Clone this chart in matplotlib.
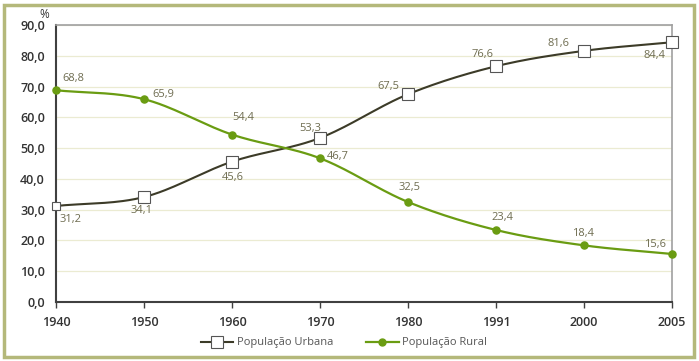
import numpy as np
import matplotlib
matplotlib.use("Agg")
import matplotlib.pyplot as plt
from matplotlib.patches import Rectangle

plt.rcParams['font.family'] = ['Open Sans', 'DejaVu Sans']

years = ["1940", "1950", "1960", "1970", "1980", "1991", "2000", "2005"]
urbana = [31.2, 34.1, 45.6, 53.3, 67.5, 76.6, 81.6, 84.4]
rural = [68.8, 65.9, 54.4, 46.7, 32.5, 23.4, 18.4, 15.6]
yticks = [0, 10, 20, 30, 40, 50, 60, 70, 80, 90]

urb_off = [(15, 14), (-2, 13), (1, 16), (-10, -9), (-20, -8), (-13, -12), (-26, -7), (-18, 13)]
rur_off = [(17, -12), (19, -5), (11, -17), (18, -2), (2, -14), (6, -12), (-1, -12), (-17, -9)]
urb_sizes = [5.5, 9, 9, 9, 9, 9, 9, 9]

def smooth(x, y, n=30):
    x = np.asarray(x, float); y = np.asarray(y, float)
    px = np.concatenate([[2*x[0]-x[1]], x, [2*x[-1]-x[-2]]])
    py = np.concatenate([[2*y[0]-y[1]], y, [2*y[-1]-y[-2]]])
    xs, ys = [], []
    t = np.linspace(0, 1, n)
    for i in range(1, len(px)-2):
        for arr, out in ((px, xs), (py, ys)):
            p0, p1, p2, p3 = arr[i-1], arr[i], arr[i+1], arr[i+2]
            out.extend(0.5*((2*p1) + (-p0+p2)*t + (2*p0-5*p1+4*p2-p3)*t**2 + (-p0+3*p1-3*p2+p3)*t**3))
    return np.array(xs), np.array(ys)

fig = plt.figure(figsize=(6.99, 3.61), dpi=100)
ax = fig.add_axes([56/699, 1-302/361, (672-56)/699, (302-25)/361])

urb_col = "#3c3b28"
rur_col = "#6a9c12"
lab_col = "#6e6c50"

x = np.arange(len(years))
sx, sy = smooth(x, urbana)
ax.plot(sx, sy, color=urb_col, lw=1.5, zorder=3)
sx, sy = smooth(x, rural)
ax.plot(sx, sy, color=rur_col, lw=1.6, zorder=3)
ax.scatter(x, rural, s=26, color=rur_col, zorder=4, clip_on=False)
for xi, yi, ms in zip(x, urbana, urb_sizes):
    ax.plot([xi], [yi], marker="s", ms=ms, mfc="white", mec="#555555", mew=0.8, zorder=5, clip_on=False, ls="none")

for xi, yi, (dx, dy) in zip(x, urbana, urb_off):
    ax.annotate(f"{yi:.1f}".replace(".", ","), (xi, yi), xytext=(dx, -dy), textcoords="offset pixels",
                ha="center", va="center", fontsize=8, color=lab_col, zorder=6)
for xi, yi, (dx, dy) in zip(x, rural, rur_off):
    ax.annotate(f"{yi:.1f}".replace(".", ","), (xi, yi), xytext=(dx, -dy), textcoords="offset pixels",
                ha="center", va="center", fontsize=8, color=lab_col, zorder=6)

ax.set_xlim(0, len(years)-1)
ax.set_ylim(0, 90)
ax.set_xticks(x)
ax.set_xticklabels(years)
ax.set_yticks(yticks)
ax.set_yticklabels([f"{v:.1f}".replace(".", ",") for v in yticks])
ax.tick_params(axis="x", length=4, width=1, color="#404040", pad=6, labelsize=9, labelcolor="#333333")
ax.tick_params(axis="y", length=0, pad=8, labelsize=9, labelcolor="#333333")
for lab in ax.get_xticklabels() + ax.get_yticklabels():
    lab.set_fontweight("semibold")
ax.grid(axis="y", color="#ebebd2", lw=0.9)
ax.set_axisbelow(True)
for s in ["top", "right"]:
    ax.spines[s].set_color("#a0a0a0")
    ax.spines[s].set_linewidth(1.2)
for s in ["left", "bottom"]:
    ax.spines[s].set_color("#404040")
    ax.spines[s].set_linewidth(1.5)

fig.text(44/699, 1-14/361, "%", fontsize=8.5, color="#333333", ha="center", va="center")

h1, = ax.plot([], [], marker="s", ms=9, mfc="white", mec="#555555", mew=0.8, color=urb_col, lw=1.5)
h2, = ax.plot([], [], marker="o", ms=5, color=rur_col, lw=1.6)
fig.legend([h1, h2], ["População Urbana", "População Rural"], loc="center", bbox_to_anchor=(0.492, 1-343/361),
           ncol=2, frameon=False, fontsize=8, labelcolor="#555555", handlelength=2.9, columnspacing=3.0, handletextpad=0.3)

fig.patches.append(Rectangle((4/699, 4/361), 690/699, 352/361, transform=fig.transFigure,
                             fill=False, ec="#b4b87a", lw=2.5))

fig.savefig("out.png", dpi=100)
